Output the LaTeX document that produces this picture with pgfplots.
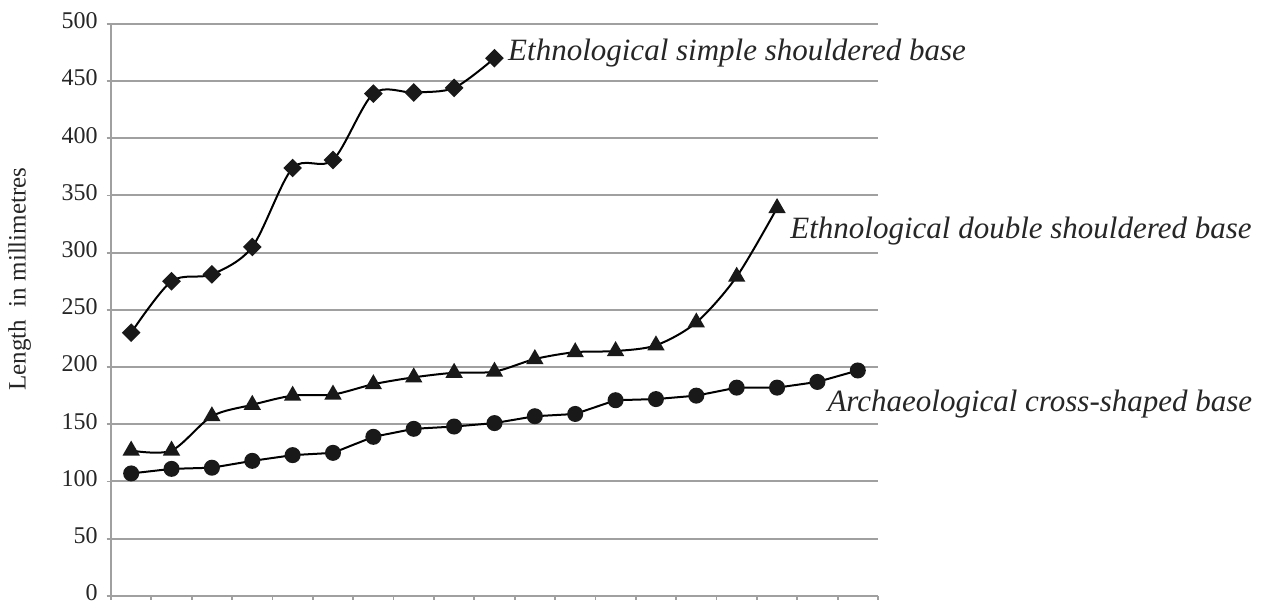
\documentclass[border=0pt]{standalone}
\usepackage{pgfplots}
\pgfplotsset{compat=1.18}
\usepackage{fontspec}
\setmainfont{Liberation Serif}
\definecolor{gridgray}{RGB}{160,160,160}
\definecolor{mk}{RGB}{25,25,25}
\begin{document}
\begin{tikzpicture}
\begin{axis}[
  scale only axis,
  width=383.5pt, height=286pt,
  xmin=0.5, xmax=19.5,
  ymin=0, ymax=500,
  axis lines=left,
  axis line style={-, draw=gridgray, line width=1pt},
  xtick={0.5,1.5,...,19.5},
  xticklabels={},
  ytick={0,50,...,500},
  tick align=outside,
  major tick length=2.2pt,
  tick style={draw=gridgray, line width=0.9pt},
  ymajorgrids,
  grid style={draw=gridgray, line width=1pt},
  /pgf/number format/assume math mode=true,
  yticklabel style={font=\fontsize{12}{14}\selectfont, text=black!85, xshift=-1pt, yshift=1.5pt},
  ylabel={Length\ \ in millimetres},
  ylabel style={at={(rel axis cs:-0.119,0.554)}, anchor=center, font=\fontsize{12.5}{15}\selectfont, text=black!85},
  clip=false,
]
\addplot[smooth, line width=1pt, black, mark=square*, mark size=2.8pt, mark options={rotate=45, fill=mk, draw=mk}]
 coordinates {(1,230) (2,275) (3,281) (4,305) (5,374) (6,381) (7,439) (8,440) (9,444) (10,470)};
\addplot[smooth, line width=1pt, black, mark=triangle*, mark size=4pt, mark options={fill=mk, draw=mk}]
 coordinates {(1,127) (2,127) (3,157) (4,167) (5,175) (6,176) (7,185) (8,191) (9,195) (10,196) (11,207) (12,213) (13,214) (14,219) (15,239) (16,279) (17,339)};
\addplot[line width=1pt, black, mark=*, mark size=3.5pt, mark options={fill=mk, draw=mk}]
 coordinates {(1,107) (2,111) (3,112) (4,118) (5,123) (6,125) (7,139) (8,146) (9,148) (10,151) (11,157) (12,159) (13,171) (14,172) (15,175) (16,182) (17,182) (18,187) (19,197)};
\node[anchor=west, inner sep=0pt, font=\fontsize{15.5}{18}\selectfont\itshape, text=black!85] at (axis cs:10.33,474.8) {Ethnological simple shouldered base};
\node[anchor=west, inner sep=0pt, font=\fontsize{15.5}{18}\selectfont\itshape, text=black!85] at (axis cs:17.32,319) {Ethnological double shouldered base};
\node[anchor=west, inner sep=0pt, font=\fontsize{15.5}{18}\selectfont\itshape, text=black!85] at (axis cs:18.24,167.5) {Archaeological cross-shaped base};
\coordinate (bl) at (rel axis cs:-0.1447,-0.0155);
\coordinate (tr) at (rel axis cs:1.5007,1.0417);
\end{axis}
\pgfresetboundingbox
\useasboundingbox (bl) rectangle (tr);
\end{tikzpicture}
\end{document}
